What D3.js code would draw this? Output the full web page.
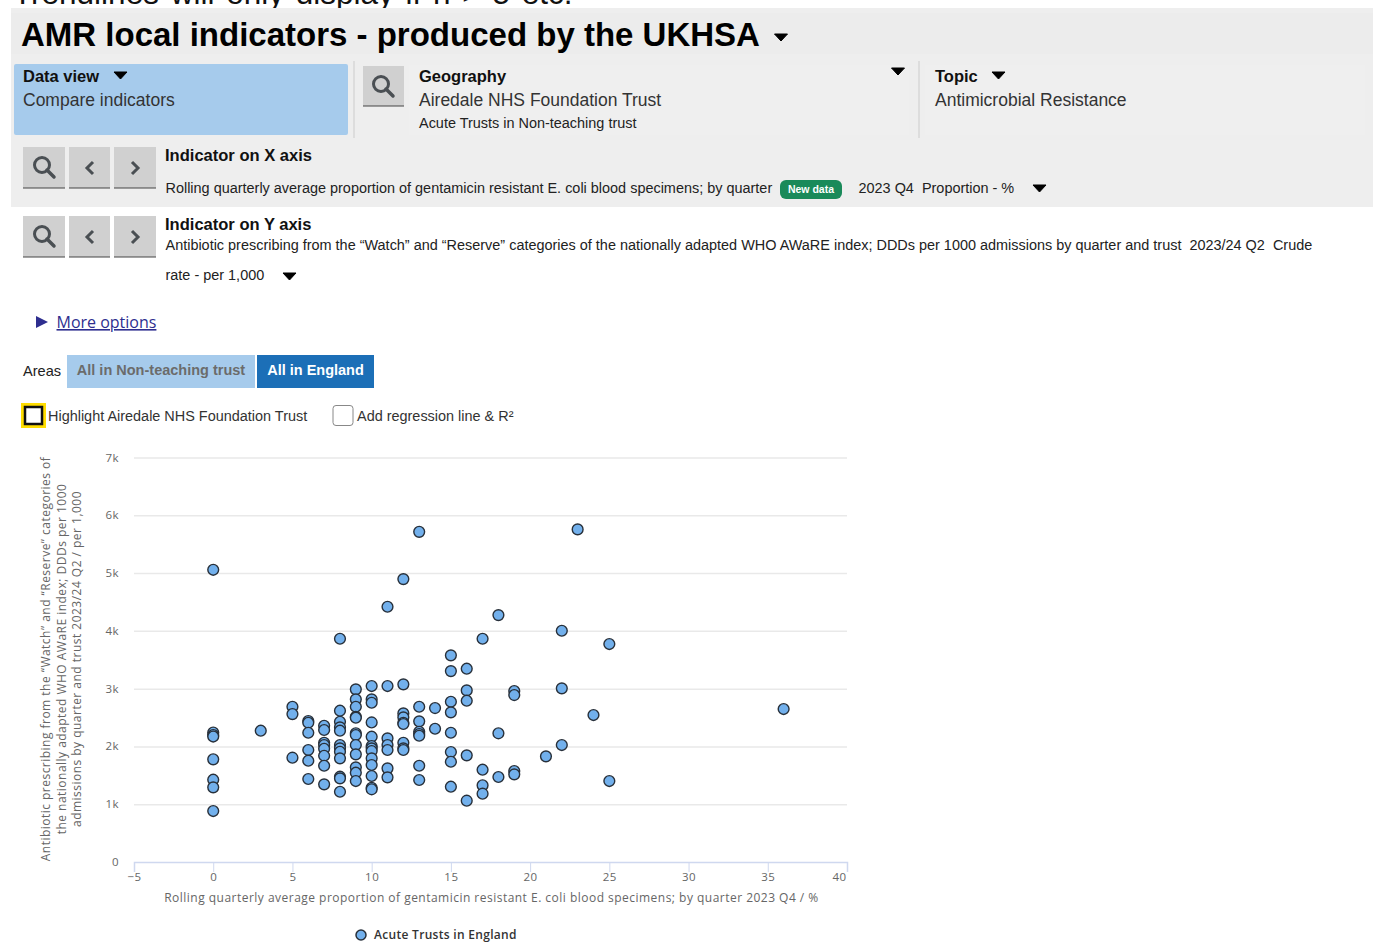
<!DOCTYPE html>
<html>
<head>
<meta charset="utf-8">
<script src="https://cdn.jsdelivr.net/npm/d3@7"></script>
<style>
  html, body { margin: 0; padding: 0; background: #fff; overflow: hidden; }
  svg { display: block; }
  text { font-family: "Liberation Sans", Arial, sans-serif; }
  .chart text { font-family: "Open Sans", sans-serif; letter-spacing: 0.48px; }
  .grid line { stroke: #e9e9e9; stroke-width: 1.5; }
  .grid path { display: none; }
</style>
</head>
<body>
<script>
const svgWidth = 1374;
const svgHeight = 943;

// one array per x value seen in the picture, y values in DDDs per 1000
const xValues = [0, 3, 5, 6, 7, 8, 9, 10, 11, 12, 13, 14, 15, 16, 17, 18, 19, 21, 22, 23, 24, 25, 36];
const yByX = [
  [2240, 2197, 2171, 1777, 1424, 1292, 882, 5057],
  [2272],
  [2687, 2560, 1805],
  [2439, 2410, 2237, 1938, 1753, 1436],
  [2358, 2284, 2064, 2024, 1960, 1839, 1666, 1344],
  [3863, 2618, 2427, 2330, 2272, 2024, 1967, 1908, 1794, 1476, 1448, 1216],
  [2988, 2815, 2687, 2514, 2497, 2227, 2197, 2024, 1863, 1638, 1545, 1401],
  [3045, 2815, 2756, 2415, 2168, 2007, 1967, 1920, 1794, 1678, 1488, 1285, 1258],
  [4417, 3045, 2140, 2024, 1938, 1621, 1465],
  [4896, 3074, 2572, 2503, 2410, 2388, 2064, 1967, 1938],
  [5714, 2687, 2434, 2254, 2215, 2185, 1666, 1419],
  [2664, 2306],
  [3576, 3304, 2773, 2590, 2237, 1903, 1735, 1303],
  [3345, 2970, 2791, 1846, 1061],
  [3863, 1597, 1327, 1182],
  [4273, 2227, 1471],
  [2958, 2889, 1574, 1517],
  [1828],
  [4002, 3005, 2024],
  [5756],
  [2543],
  [3772, 1401],
  [2647]
];

const xTicks = [-5, 0, 5, 10, 15, 20, 25, 30, 35, 40];
const yTicks = [0, 1000, 2000, 3000, 4000, 5000, 6000, 7000];

const title = 'AMR local indicators - produced by the UKHSA';
const topLine = 'Trendlines will only display if n > 5 etc.';
const xIndicator = 'Rolling quarterly average proportion of gentamicin resistant E. coli blood specimens; by quarter';
const yIndicator1 = 'Antibiotic prescribing from the \u201cWatch\u201d and \u201cReserve\u201d categories of the nationally adapted WHO AWaRE index; DDDs per 1000 admissions by quarter and trust  2023/24 Q2  Crude';
const yIndicator2 = 'rate - per 1,000';
const yAxisLines = [
  'Antibiotic prescribing from the \u201cWatch\u201d and \u201cReserve\u201d categories of',
  'the nationally adapted WHO AWaRE index; DDDs per 1000',
  'admissions by quarter and trust 2023/24 Q2 / per 1,000'
];
const xAxisTitle = 'Rolling quarterly average proportion of gentamicin resistant E. coli blood specimens; by quarter 2023 Q4 / %';
const legendLabel = 'Acute Trusts in England';

const points = xValues.flatMap((x, i) => yByX[i].map(y => ({x: x, y: y})));

const svg = d3.select('body')
              .append('svg')
              .attr('width', svgWidth)
              .attr('height', svgHeight);

// page furniture
function box(x, y, w, h, fill, rx) {
  return svg.append('rect').attr('x', x).attr('y', y).attr('width', w).attr('height', h)
            .attr('fill', fill).attr('rx', rx || 0);
}
function label(x, y, str, size, weight, fill, anchor) {
  return svg.append('text').attr('x', x).attr('y', y).text(str)
            .attr('font-size', size).attr('font-weight', weight || 'normal')
            .attr('fill', fill || '#222').attr('text-anchor', anchor || 'start')
            .style('white-space', 'pre');
}
function tri(x, y, w, h, fill) {
  svg.append('path').attr('d', d3.line()([[x - w / 2, y], [x + w / 2, y], [x, y + h]]) + 'Z')
     .attr('fill', fill || '#000').attr('stroke', fill || '#000').attr('stroke-width', 1)
     .attr('stroke-linejoin', 'round');
}
function lens(x, y) {
  svg.append('circle').attr('cx', x - 2).attr('cy', y - 2).attr('r', 7.5)
     .attr('fill', 'none').attr('stroke', '#4a4f53').attr('stroke-width', 3);
  svg.append('line').attr('x1', x + 3).attr('y1', y + 3).attr('x2', x + 10).attr('y2', y + 10)
     .attr('stroke', '#4a4f53').attr('stroke-width', 3.5).attr('stroke-linecap', 'round');
}
function chevron(x, y, dir) {
  svg.append('path').attr('d', d3.line()([[x - 3 * dir, y - 6], [x + 3 * dir, y], [x - 3 * dir, y + 6]]))
     .attr('fill', 'none').attr('stroke', '#4a4f53').attr('stroke-width', 3);
}
function greyBtn(x, y, w, h) {
  box(x, y, w, h, '#d0d0d0');
  svg.append('line').attr('x1', x).attr('x2', x + w).attr('y1', y + h).attr('y2', y + h)
     .attr('stroke', '#444').attr('stroke-width', 1);
}

label(13, 4, topLine, 31.5, 'normal', '#111').style('word-spacing', '3px');
box(11, 8, 1362, 199, '#eeeeee');
box(11, 13, 1362, 41, '#ececec');
label(21, 46, title, 33, 'bold', '#000');
tri(781, 34, 13, 7);

box(14, 64, 334, 71, '#a6cbec', 2);
label(23, 82, 'Data view', 16.5, 'bold', '#111');
tri(120.5, 72, 13, 7);
label(23, 106, 'Compare indicators', 17.5, 'normal', '#333');
svg.append('line').attr('x1', 354).attr('x2', 354).attr('y1', 61).attr('y2', 138).attr('stroke', '#ccc');
svg.append('line').attr('x1', 919).attr('x2', 919).attr('y1', 61).attr('y2', 138).attr('stroke', '#ccc');
box(409, 65, 500, 70, '#efefef');
box(925, 65, 440, 70, '#efefef');

greyBtn(363, 66, 41, 40);
lens(383, 86);
label(419, 82, 'Geography', 16.5, 'bold', '#111');
label(419, 106, 'Airedale NHS Foundation Trust', 17.5, 'normal', '#333');
label(419, 128, 'Acute Trusts in Non-teaching trust', 14.45, 'normal', '#222');
tri(898, 68, 13, 7);
label(935, 82, 'Topic', 16.5, 'bold', '#111');
tri(998.5, 72, 13, 7);
label(935, 106, 'Antimicrobial Resistance', 17.5, 'normal', '#333');

greyBtn(23, 147, 42, 41);
greyBtn(69, 147, 41, 41);
greyBtn(114, 147, 42, 41);
lens(44, 167);
chevron(90, 168, -1);
chevron(135, 168, 1);
label(165, 161, 'Indicator on X axis', 16.55, 'bold', '#111');
label(165.5, 193, xIndicator, 14.45, 'normal', '#222');
box(780, 180, 62, 19, '#1a8a5a', 6);
label(811, 193, 'New data', 10.5, 'bold', '#fff', 'middle');
label(858.5, 193, '2023 Q4  Proportion - %', 14.45, 'normal', '#222');
tri(1039.5, 185, 13, 7);

greyBtn(23, 216, 42, 41);
greyBtn(69, 216, 41, 41);
greyBtn(114, 216, 42, 41);
lens(44, 236);
chevron(90, 237, -1);
chevron(135, 237, 1);
label(165, 230, 'Indicator on Y axis', 16.55, 'bold', '#111');
label(165.5, 250, yIndicator1, 14.45, 'normal', '#222');
label(165.5, 280, yIndicator2, 14.45, 'normal', '#222');
tri(289.5, 273, 13, 7);

svg.append('path').attr('d', d3.line()([[36, 316], [48, 322], [36, 328]]) + 'Z').attr('fill', '#2e2e8f');
label(56.5, 328, 'More options', 16, 'normal', '#2e2e8f')
  .style('font-family', '"Open Sans", sans-serif')
  .attr('text-decoration', 'underline');

label(23, 376, 'Areas', 14.6, 'normal', '#222');
box(67, 355, 188, 33, '#a6cbec');
label(161, 375, 'All in Non-teaching trust', 14.5, 'bold', '#6b6b6b', 'middle');
box(257, 355, 117, 33, '#1c6fb7');
label(315.5, 375, 'All in England', 14.5, 'bold', '#fff', 'middle');

box(21, 403, 25, 25, '#ffdd00');
box(25, 407, 17, 17, '#fff').attr('stroke', '#111').attr('stroke-width', 2.5);
label(48, 421, 'Highlight Airedale NHS Foundation Trust', 14.45, 'normal', '#333');
box(333, 405.5, 20, 20, '#fff', 3).attr('stroke', '#888').attr('stroke-width', 1);
label(357, 421, 'Add regression line & R\u00b2', 14.45, 'normal', '#333');

// the scatter itself
const chart = svg.append('g').attr('class', 'chart');
const xScale = d3.scaleLinear().domain([-5, 40]).range([134, 847]);
const yScale = d3.scaleLinear().domain([0, 7000]).range([862, 457.5]);

const grid = chart.append('g').attr('class', 'grid')
  .attr('transform', 'translate(134,0)')
  .call(d3.axisLeft(yScale).tickValues(yTicks.slice(1)).tickSize(-713).tickFormat(''));

const xAxis = chart.append('g')
  .attr('transform', 'translate(0,862)')
  .call(d3.axisBottom(xScale).tickValues(xTicks).tickSize(10).tickFormat(d => d < 0 ? '\u2212' + (-d) : d));
xAxis.select('.domain').attr('stroke', '#cfd8ef').attr('stroke-width', 1.5);
xAxis.selectAll('.tick line').attr('stroke', '#cfd8ef');
xAxis.selectAll('.tick text').attr('dy', 0).attr('y', 19)
     .attr('dx', d => d === 40 ? -8 : 0)
     .attr('font-size', 11.5).attr('fill', '#666').attr('font-family', null);

chart.append('g').selectAll('text')
  .data(yTicks)
  .enter()
  .append('text')
  .attr('x', 119)
  .attr('y', d => yScale(d) + 4)
  .attr('text-anchor', 'end')
  .attr('font-size', 11.5)
  .attr('fill', '#666')
  .text(d => d === 0 ? '0' : (d / 1000) + 'k');

chart.append('g').selectAll('text')
  .data(yAxisLines)
  .enter()
  .append('text')
  .attr('transform', (d, i) => 'translate(' + (50 + i * 15.5) + ',659) rotate(-90)')
  .attr('text-anchor', 'middle')
  .attr('font-size', 12)
  .attr('fill', '#666')
  .text(d => d);

chart.append('text')
  .attr('x', 491.5)
  .attr('y', 902)
  .attr('text-anchor', 'middle')
  .attr('font-size', 12)
  .attr('fill', '#666')
  .text(xAxisTitle);

chart.append('g').selectAll('circle')
  .data(points)
  .enter()
  .append('circle')
  .attr('cx', d => xScale(d.x))
  .attr('cy', d => yScale(d.y))
  .attr('r', 5.4)
  .attr('fill', '#72b0ec')
  .attr('stroke', '#28303a')
  .attr('stroke-width', 1.4);

chart.append('circle')
  .attr('cx', 361).attr('cy', 935).attr('r', 5)
  .attr('fill', '#72b0ec').attr('stroke', '#28303a').attr('stroke-width', 1.5);
chart.append('text')
  .attr('x', 374).attr('y', 939)
  .attr('font-size', 12).attr('font-weight', 600).attr('fill', '#333')
  .style('letter-spacing', '0.3px')
  .text(legendLabel);
</script>
</body>
</html>
